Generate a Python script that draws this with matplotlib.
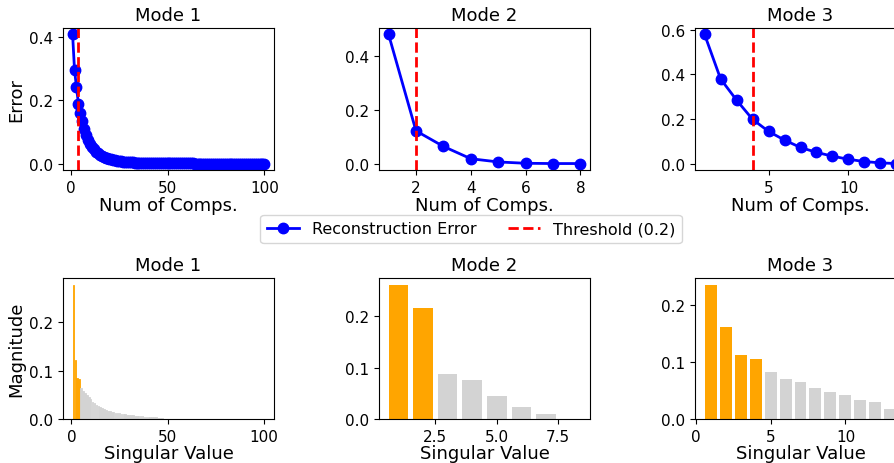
import numpy as np
import matplotlib
matplotlib.use("Agg")
import matplotlib.pyplot as plt

# values
titles = ["Mode 1", "Mode 2", "Mode 3"]
threshold = 0.2
n_keep = [4, 2, 4]

mode1_err = [0.409, 0.296, 0.242, 0.190, 0.160, 0.134, 0.111, 0.092, 0.076, 0.063,
             0.053, 0.045, 0.038, 0.033, 0.028, 0.025, 0.022, 0.019, 0.017, 0.015,
             0.013, 0.012, 0.0104, 0.0092, 0.0081, 0.0072, 0.0064, 0.0056, 0.0050, 0.0044,
             0.0039, 0.0034, 0.0030, 0.0026, 0.0023, 0.0020, 0.0017, 0.0015, 0.0013, 0.0011,
             0.0010, 0.0009, 0.0008, 0.0007, 0.0006, 0.0006, 0.0005, 0.0005, 0.0004, 0.0004,
             0.0004, 0.0003, 0.0003, 0.0003, 0.0003, 0.0003, 0.0002, 0.0002, 0.0002, 0.0002,
             0.0002, 0.0002, 0.0002, 0.0001, 0.0001, 0.0001, 0.0001, 0.0001, 0.0001, 0.0001,
             0.0001, 0.0001, 0.0001, 0.0001, 0.0001, 0.0001, 0.0001, 0.0001, 0.0001, 0.0,
             0.0, 0.0, 0.0, 0.0, 0.0, 0.0, 0.0, 0.0, 0.0, 0.0,
             0.0, 0.0, 0.0, 0.0, 0.0, 0.0, 0.0, 0.0, 0.0, 0.0]
mode2_err = [0.482, 0.122, 0.064, 0.018, 0.006, 0.001, 0.0, 0.0]
mode3_err = [0.578, 0.379, 0.284, 0.198, 0.144, 0.105, 0.072, 0.050, 0.033, 0.019,
             0.009, 0.003, 0.0]

mode1_mag = [0.277, 0.121, 0.084, 0.082, 0.063, 0.058, 0.054, 0.050, 0.045, 0.041,
             0.036, 0.033, 0.029, 0.027, 0.024, 0.022, 0.020, 0.018, 0.017, 0.016,
             0.015, 0.014, 0.013, 0.012, 0.012, 0.011, 0.010, 0.010, 0.009, 0.009,
             0.008, 0.008, 0.007, 0.007, 0.007, 0.006, 0.006, 0.005, 0.005, 0.005,
             0.004, 0.004, 0.004, 0.004, 0.003, 0.002, 0.002, 0.001, 0.001, 0.001,
             0.0005, 0.0005, 0.0005, 0.0005, 0.0005, 0.0005, 0.0005, 0.0005, 0.0005, 0.0005,
             0.0004, 0.0004, 0.0004, 0.0004, 0.0004, 0.0004, 0.0004, 0.0004, 0.0004, 0.0004,
             0.0003, 0.0003, 0.0003, 0.0003, 0.0003, 0.0003, 0.0003, 0.0003, 0.0003, 0.0003,
             0.0002, 0.0002, 0.0002, 0.0002, 0.0002, 0.0002, 0.0002, 0.0002, 0.0002, 0.0002,
             0.0001, 0.0001, 0.0001, 0.0001, 0.0001, 0.0001, 0.0001, 0.0001, 0.0001, 0.0001]
mode2_mag = [0.261, 0.216, 0.088, 0.076, 0.044, 0.024, 0.010, 0.0005]
mode3_mag = [0.236, 0.162, 0.113, 0.106, 0.083, 0.071, 0.065, 0.055, 0.048, 0.043,
             0.034, 0.030, 0.018]

errors = [mode1_err, mode2_err, mode3_err]
mags = [mode1_mag, mode2_mag, mode3_mag]

fig = plt.figure(figsize=(8.94, 4.64), dpi=100)
W, H = 894, 464
lefts = [63, 379, 695]
aw = 211

for i in range(3):
    # top row: reconstruction error
    ax = fig.add_axes([lefts[i] / W, 1 - 171 / H, aw / W, 142 / H])
    k = np.arange(1, len(errors[i]) + 1)
    l1, = ax.plot(k, errors[i], "o-", color="blue", lw=2, ms=7.5,
                  label="Reconstruction Error")
    l2 = ax.axvline(n_keep[i], color="red", ls="--", lw=2,
                    label="Threshold (%.1f)" % threshold)
    ax.set_title(titles[i], fontsize=13)
    ax.set_xlabel("Num of Comps.", fontsize=13, labelpad=1)
    ax.tick_params(labelsize=11)
    if i == 0:
        ax.set_ylabel("Error", fontsize=13, labelpad=3)
        handles = [l1, l2]

    # bottom row: singular values
    bx = fig.add_axes([lefts[i] / W, 1 - 420 / H, aw / W, 141 / H])
    s = np.arange(1, len(mags[i]) + 1)
    cols = ["orange" if j <= n_keep[i] else "lightgray" for j in s]
    # thin same-colour edge so the 100 narrow bars of mode 1 read as solid
    bx.bar(s, mags[i], color=cols, edgecolor=cols, linewidth=0.6 if i == 0 else 0)
    bx.set_title(titles[i], fontsize=13)
    bx.set_xlabel("Singular Value", fontsize=13, labelpad=0)
    bx.tick_params(labelsize=11)
    if i == 0:
        bx.set_ylabel("Magnitude", fontsize=13, labelpad=3)

fig.legend(handles=handles, loc="center", bbox_to_anchor=(471 / W, 1 - 230 / H),
           ncol=2, fontsize=11.5)

fig.savefig("out.png", dpi=100)
